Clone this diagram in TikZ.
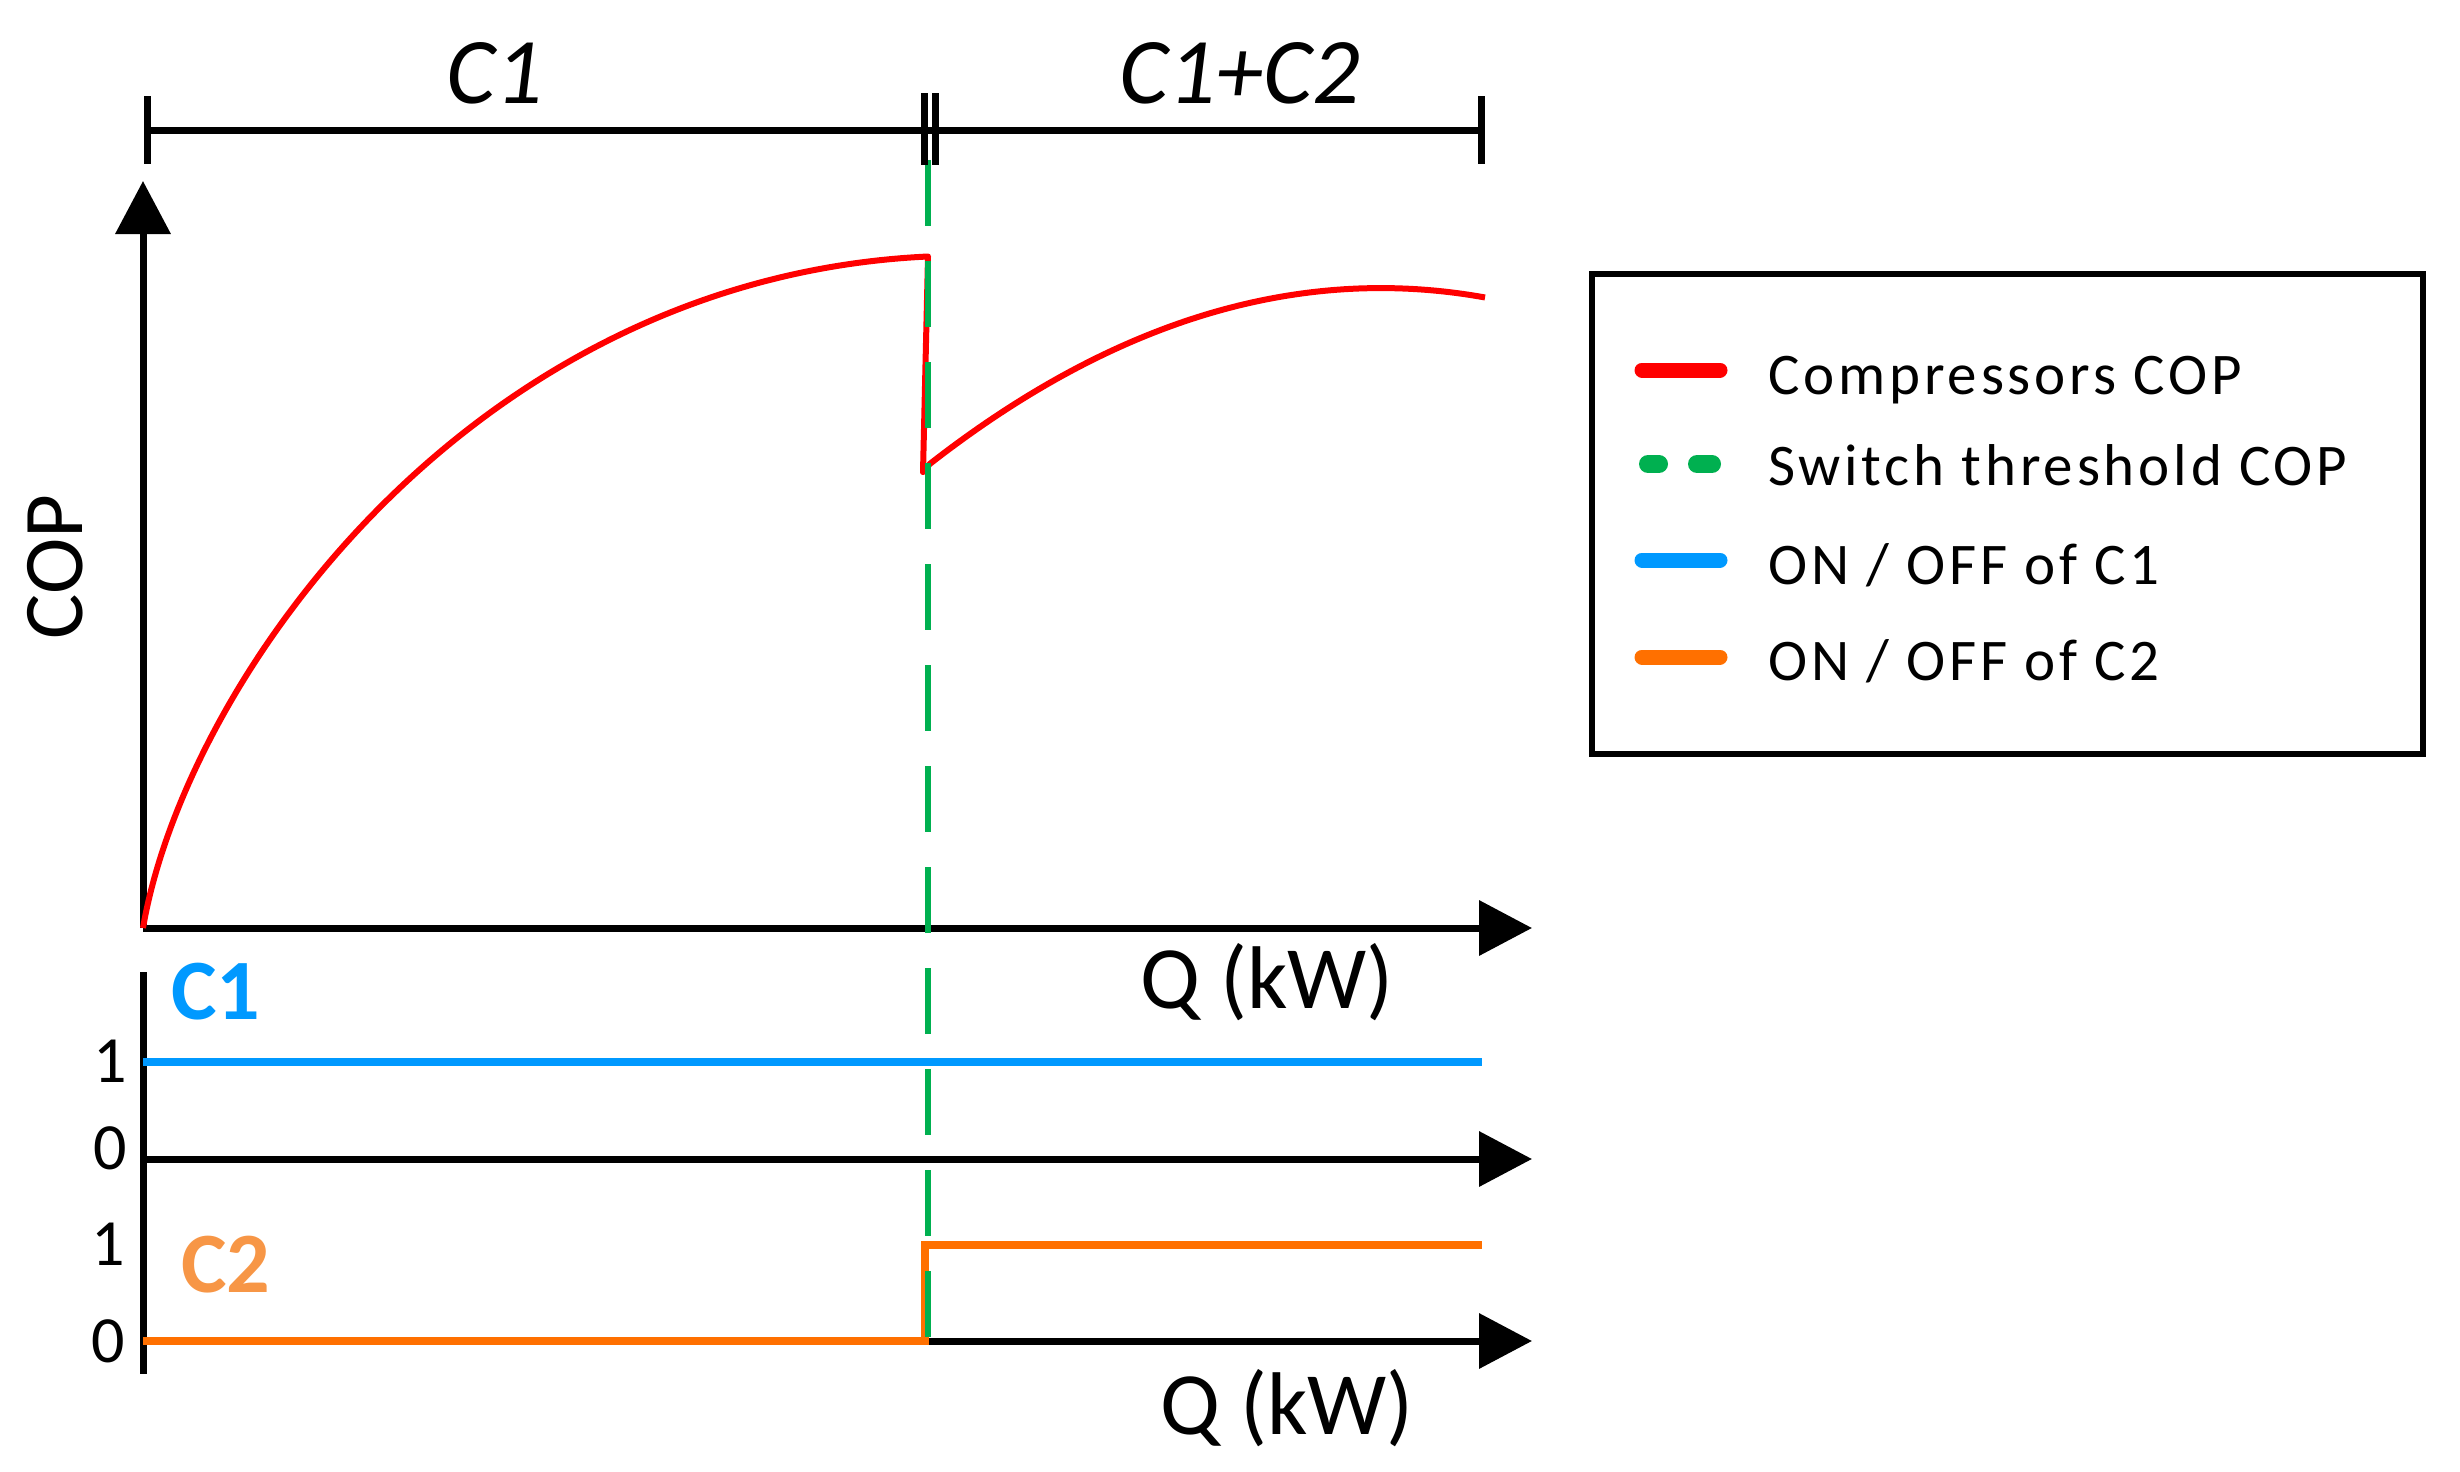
\documentclass[tikz,border=0pt]{standalone}
\usepackage{fontspec}
\setmainfont{Carlito}
\usetikzlibrary{arrows.meta}
\definecolor{cred}{RGB}{255,0,0}
\definecolor{cgreen}{RGB}{0,176,80}
\definecolor{cblue}{RGB}{0,153,255}
\definecolor{corange}{RGB}{255,112,0}
\definecolor{clorange}{RGB}{247,150,70}
\begin{document}
\begin{tikzpicture}[x=1pt,y=-1pt,
  axisline/.style={line width=7pt,black},
  arr/.style={-{Triangle[length=53pt,width=54pt]}},
  txt/.style={inner sep=0pt,outer sep=0pt},
  legline/.style={line width=15pt,line cap=round},
  legtxt/.style={inner sep=0pt,anchor=base west,font=\fontsize{59}{65}\selectfont\addfontfeatures{LetterSpace=6.5}},
  ticklbl/.style={inner sep=0pt,font=\fontsize{66}{70}\selectfont},
  qlbl/.style={inner sep=0pt,anchor=base west,font=\fontsize{89}{95}\selectfont},
  toplbl/.style={inner sep=0pt,anchor=base,font=\fontsize{94}{100}\selectfont\itshape},
  cname/.style={inner sep=0pt,font=\fontsize{86}{90}\selectfont\bfseries}
]
\useasboundingbox (0,0) rectangle (2460,1472);
% named coordinates
\coordinate (O) at (143,928);
\coordinate (Ytip) at (143,181);
\coordinate (Xtip) at (1532,928);
\coordinate (L1top) at (143,972);
\coordinate (L1bot) at (143,1374);
\coordinate (M0) at (143,1159);
\coordinate (Mtip) at (1532,1159);
\coordinate (B0) at (143,1341);
\coordinate (Btip) at (1532,1341);
% axes
\draw[axisline,arr] (O) -- (Ytip);
\draw[axisline,arr] (O) -- (Xtip);
\draw[axisline] (L1top) -- (L1bot);
\draw[axisline,arr] (M0) -- (Mtip);
\draw[axisline,arr] (B0) -- (Btip);
% red COP curve
\coordinate (Rpeak) at (928,256.5);
\coordinate (Rlow) at (923,472);
\draw[cred,line width=6pt,line join=round]
  (O) .. controls (185,683) and (468,278) .. (Rpeak)
  -- (Rlow)
  -- plot[domain=0:555.3,samples=80,variable=\t]
    ({929.7+\t},{464-0.78*\t+(0.02940*\t)^2});
% on/off lines
\coordinate (C1a) at (143,1062);
\coordinate (C1b) at (1482,1062);
\draw[cblue,line width=7.5pt] (C1a) -- (C1b);
\coordinate (C2a) at (143,1341);
\coordinate (C2s) at (925,1341);
\coordinate (C2t) at (925,1245);
\coordinate (C2b) at (1482,1245);
\draw[corange,line width=7.5pt] (C2a) -- (C2s) -- (C2t) -- (C2b);
% green switch threshold
\coordinate (Gtop) at (928,160);
\coordinate (Gbot) at (928,1341);
\draw[cgreen,line width=6pt,dash pattern=on 66pt off 35pt] (Gtop) -- (Gbot);
% top bracket
\coordinate (Ba) at (147,130);
\coordinate (Bb) at (1481,130);
\draw[axisline] (Ba) -- (Bb);
\draw[axisline] (147,96) -- (147,164);
\draw[axisline] (924,93) -- (924,165);
\draw[axisline] (935,93) -- (935,165);
\draw[axisline] (1481,96) -- (1481,164);
\node[toplbl] (tc1) at (495,103) {C1};
\node[toplbl] (tc12) at (1240,103) {C1+C2};
% labels
\node[txt,rotate=90,font=\fontsize{85}{90}\selectfont] (cop) at (55,567) {COP};
\node[qlbl] (q1) at (1140,1008) {Q (kW)};
\node[qlbl] (q2) at (1160,1434) {Q (kW)};
\node[cname,text=cblue] (nc1) at (216,992) {C1};
\node[cname,text=clorange] (nc2) at (226,1265) {C2};
\node[ticklbl] (t1a) at (110,1061) {1};
\node[ticklbl] (t0a) at (110,1148) {0};
\node[ticklbl] (t1b) at (108,1244) {1};
\node[ticklbl] (t0b) at (108,1341) {0};
% legend
\draw[line width=6pt,black] (1592,274) rectangle (2423,754);
\draw[legline,cred] (1642,370) -- (1720,370);
\draw[line width=18pt,line cap=round,cgreen] (1648,464) -- (1659,464);
\draw[line width=18pt,line cap=round,cgreen] (1697,464) -- (1712,464);
\draw[legline,cblue] (1642,560) -- (1720,560);
\draw[legline,corange] (1642,657) -- (1720,657);
\node[legtxt] (l1) at (1768,394) {Compressors COP};
\node[legtxt] (l2) at (1768,485) {Switch threshold COP};
\node[legtxt] (l3) at (1768,584) {ON / OFF of C1};
\node[legtxt] (l4) at (1768,680) {ON / OFF of C2};
\end{tikzpicture}
\end{document}
